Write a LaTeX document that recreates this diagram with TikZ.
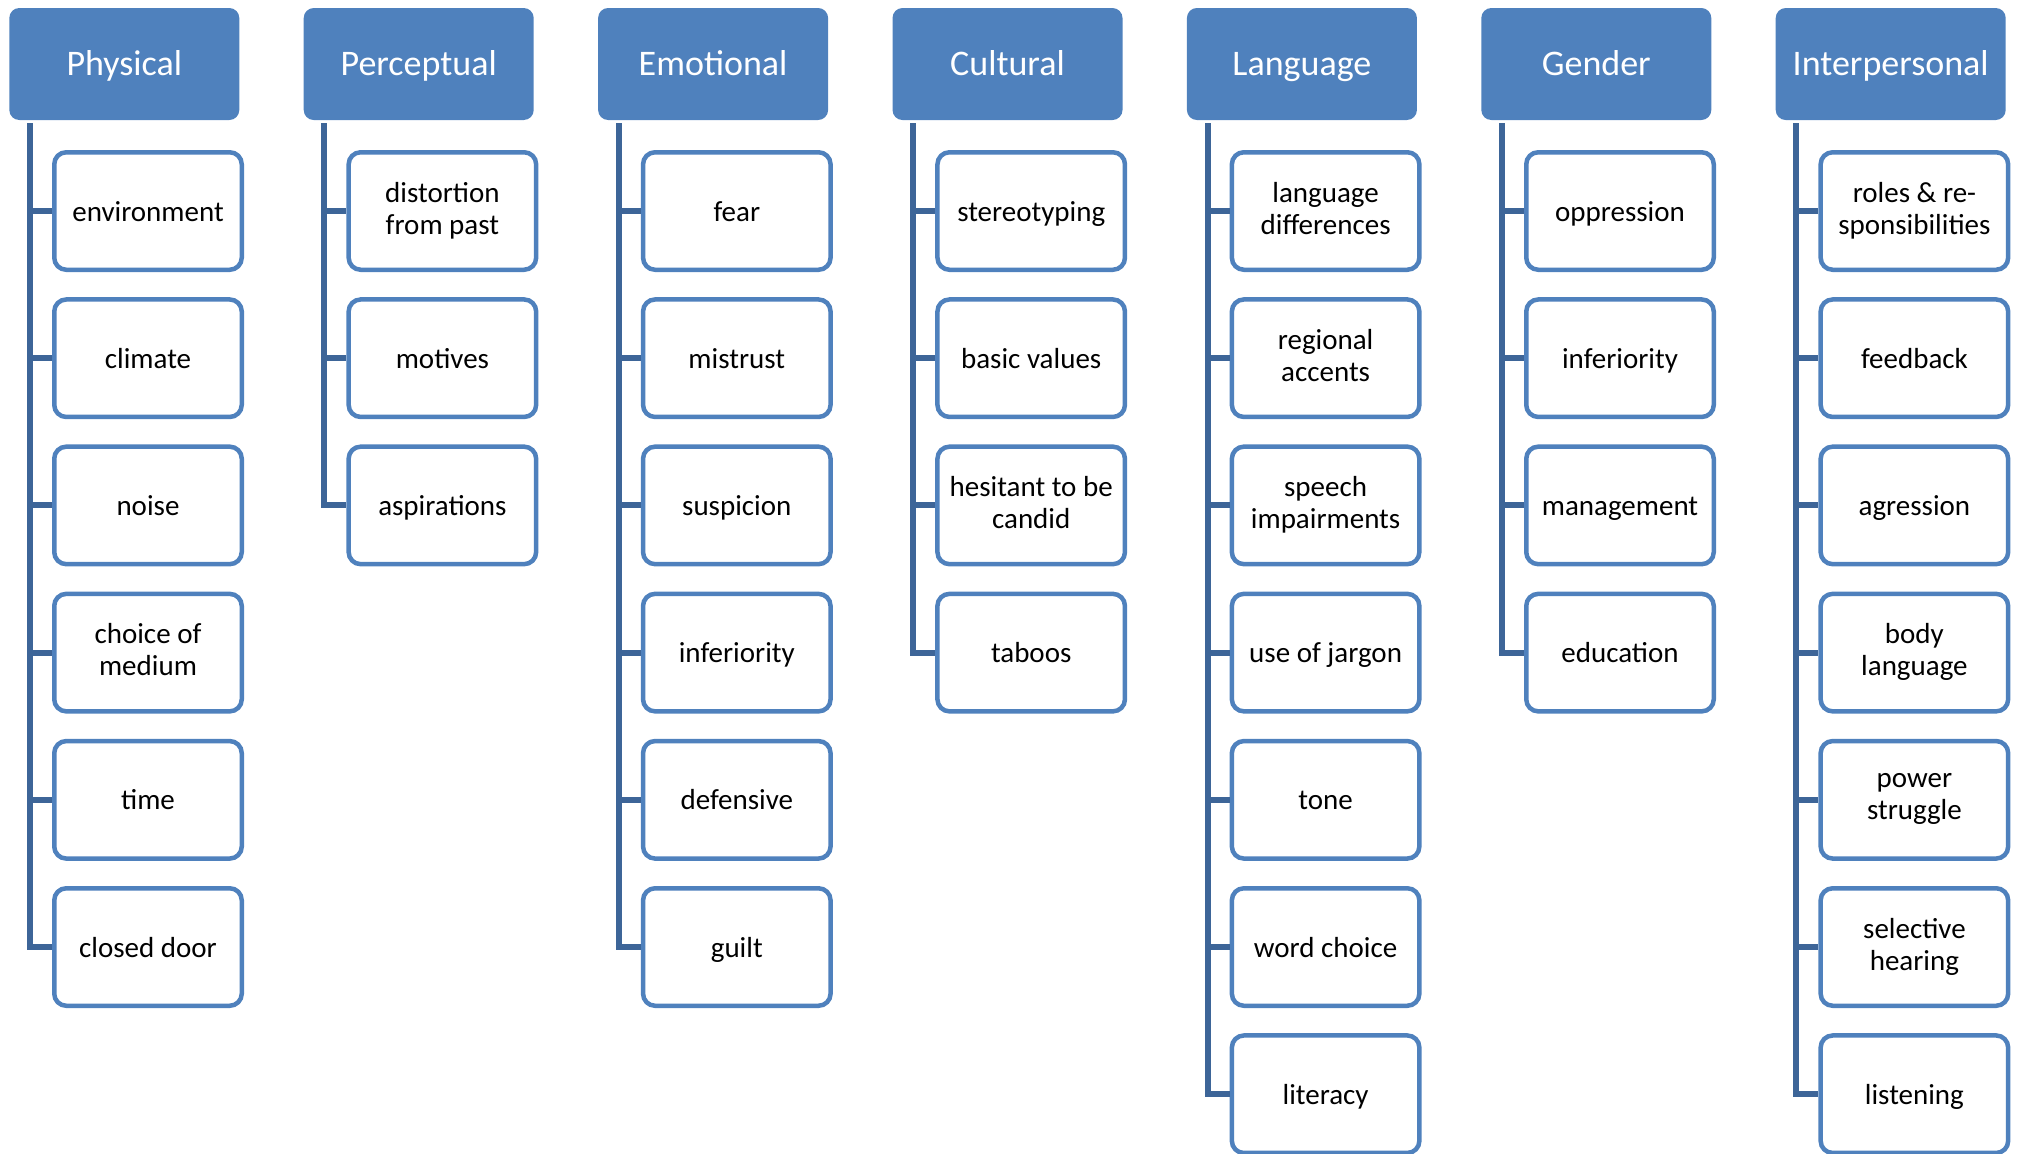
\documentclass[tikz,border=0pt]{standalone}
\usepackage{fontspec}
\setmainfont{Carlito}
\definecolor{hdr}{RGB}{79,129,189}
\definecolor{conn}{RGB}{61,101,152}
\newcommand{\leafstrut}{\rule[-3pt]{0pt}{16pt}}
\begin{document}
\begin{tikzpicture}[x=0.5pt,y=-0.5pt,
  hdrbox/.style={rectangle,rounded corners=5pt,fill=hdr,text=white,
    minimum width=115pt,minimum height=56pt,inner sep=0pt,
    text height=14pt,text depth=3pt,
    font=\fontsize{18}{20}\selectfont},
  leaf/.style={rectangle,rounded corners=6pt,draw=hdr,line width=2.25pt,fill=white,
    minimum width=93.75pt,minimum height=58.75pt,inner sep=0pt,align=center,
    execute at begin node=\leafstrut,execute at end node=\leafstrut,
    font=\fontsize{14.5}{16}\selectfont},
  trunk/.style={draw=conn,line width=3pt}]
\useasboundingbox (0,0) rectangle (2018,1153);
\foreach \k/\h/\items in {
  0/Physical/{environment,climate,noise,{choice of\\medium},time,closed door},
  1/Perceptual/{{distortion\\from past},motives,aspirations},
  2/Emotional/{fear,mistrust,suspicion,inferiority,defensive,guilt},
  3/Cultural/{stereotyping,basic values,{hesitant to be\\candid},taboos},
  4/Language/{{language\\differences},{regional\\accents},{speech\\impairments},use of jargon,tone,word choice,literacy},
  5/Gender/{oppression,inferiority,management,education},
  6/Interpersonal/{{roles \& re-\\sponsibilities},feedback,agression,{body\\language},{power\\struggle},{selective\\hearing},listening}}{
  \node[hdrbox] (h\k) at (124.3+294.4*\k,64) {\h};
  \coordinate (t\k) at (30+294.4*\k,123);
  \foreach \t [count=\i from 0] in \items {
    \node[leaf] (c\k-\i) at (148+294.4*\k,211+147.2*\i) {\t};
    \draw[trunk] (t\k) |- (c\k-\i.west);
  }
}
\end{tikzpicture}
\end{document}
